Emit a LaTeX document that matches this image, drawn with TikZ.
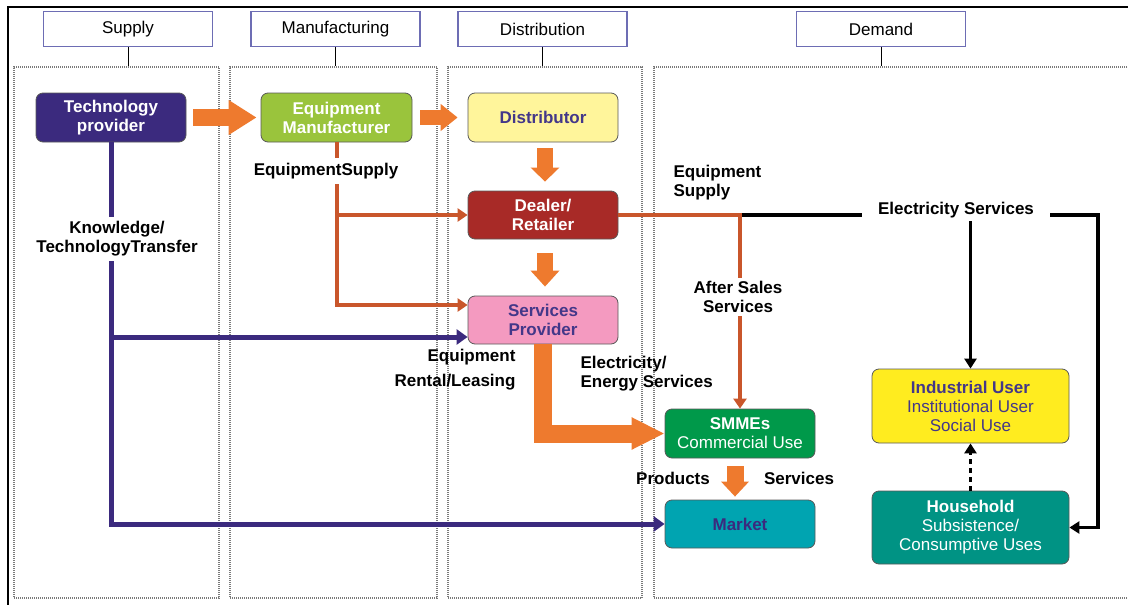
\documentclass[tikz,border=0pt]{standalone}
\usepackage{fontspec}
\setmainfont{Liberation Sans}
\usetikzlibrary{arrows.meta}

\definecolor{techPurple}{HTML}{3B2A7E}
\definecolor{manufGreen}{HTML}{9AC43C}
\definecolor{distYellow}{HTML}{FFF59B}
\definecolor{dealerRed}{HTML}{A82A27}
\definecolor{servPink}{HTML}{F49AC0}
\definecolor{smmeGreen}{HTML}{00994A}
\definecolor{marketTeal}{HTML}{00A4B1}
\definecolor{userYellow}{HTML}{FFEC1F}
\definecolor{houseTeal}{HTML}{009384}
\definecolor{textPurple}{HTML}{433789}
\definecolor{headBlue}{HTML}{6D6DB4}
\definecolor{flowOrange}{HTML}{EE7A2E}
\definecolor{lineOrange}{HTML}{C9562B}
\definecolor{laneGray}{HTML}{7A7A7A}

\begin{document}
\begin{tikzpicture}[x=1pt, y=-1pt,
	header/.style={rectangle, draw=headBlue, line width=1.2pt, fill=white, minimum width=169pt, minimum height=35pt, font=\fontsize{17}{19}\selectfont},
	lane/.style={rectangle, draw=laneGray, line width=1.2pt, dash pattern=on 1pt off 1pt},
	unitbox/.style={rectangle, rounded corners=7pt, draw=black!65, line width=0.8pt, minimum width=150pt, minimum height=49pt, align=center, text=white, inner sep=2pt, font=\fontsize{17}{19}\selectfont\bfseries},
	flowtext/.style={font=\fontsize{17}{19}\selectfont\bfseries, align=left},
	bigflow/.style n args={3}{flowOrange, line width=#1, -{Triangle[length=#2,width=#3]}},
	supplyline/.style={lineOrange, line width=4pt, -{Triangle[length=10pt,width=13pt]}},
	knowline/.style={techPurple, line width=5pt, -{Triangle[length=11pt,width=15pt]}},
	elecline/.style={black, line width=3.5pt, -{Triangle[length=10pt,width=12pt]}}]
	
	\useasboundingbox (0,0) rectangle (1128,605);
	
	%Frame
	\draw[line width=2pt] (8,605) -- (8,6.5) -- (1128,6.5);
	
	%Lanes
	\node (laneSupply) at (116.5,332.5) [lane, minimum width=205pt, minimum height=531pt] {};
	\node (laneManuf) at (333.5,332.5) [lane, minimum width=207pt, minimum height=531pt] {};
	\node (laneDistrib) at (545,332.5) [lane, minimum width=194pt, minimum height=531pt] {};
	\node (laneDemand) at (900,332.5) [lane, minimum width=492pt, minimum height=531pt] {};
	
	%Headers
	\node (hSupply) at (128,29) [header] {Supply};
	\node (hManuf) at (335.5,29) [header] {Manufacturing};
	\node (hDistrib) at (542.5,29) [header] {Distribution};
	\node (hDemand) at (881,29) [header] {Demand};
	\foreach \h/\l in {hSupply/laneSupply, hManuf/laneManuf, hDistrib/laneDistrib, hDemand/laneDemand}
		\draw[line width=1pt] (\h.south) -- (\h.south |- \l.north);
	
	%Units
	\node (techProvider) at (111,117.5) [unitbox, fill=techPurple] {Technology\\provider};
	\node (manufacturer) at (336.5,117.5) [unitbox, fill=manufGreen, minimum width=151pt] {Equipment\\Manufacturer};
	\node (distributor) at (543,117.5) [unitbox, fill=distYellow, text=textPurple] {Distributor};
	\node (dealer) at (543,215) [unitbox, fill=dealerRed, minimum height=48pt] {Dealer/\\Retailer};
	\node (servProvider) at (543,320) [unitbox, fill=servPink, text=textPurple, minimum height=48pt] {Services\\Provider};
	\node (smme) at (740,433.5) [unitbox, fill=smmeGreen] {SMMEs\\\mdseries Commercial Use};
	\node (market) at (740,524) [unitbox, fill=marketTeal, text=techPurple, minimum height=48pt] {Market};
	\node (industrialUser) at (970.5,406) [unitbox, fill=userYellow, text=textPurple, minimum width=197pt, minimum height=74pt] {Industrial User\\\mdseries Institutional User\\\mdseries Social Use};
	\node (household) at (970.5,527.5) [unitbox, fill=houseTeal, minimum width=197pt, minimum height=73pt] {Household\\\mdseries Subsistence/\\\mdseries Consumptive Uses};
	
	%Block arrows
	\draw[bigflow={17pt}{28pt}{33pt}] ([xshift=7pt]techProvider.east) -- ([xshift=-4pt]manufacturer.west);
	\draw[bigflow={15pt}{17pt}{26pt}] ([xshift=8pt]manufacturer.east) -- ([xshift=-10pt]distributor.west);
	\draw[bigflow={16pt}{14pt}{28pt}] ([xshift=2pt,yshift=-6pt]distributor.south) -- ([xshift=2pt,yshift=9pt]dealer.north);
	\draw[bigflow={16pt}{16pt}{28pt}] ([xshift=2pt,yshift=-14pt]dealer.south) -- ([xshift=2pt,yshift=9pt]servProvider.north);
	\draw[bigflow={18pt}{33pt}{30pt}] (servProvider.south) |- (smme.west);
	\draw[bigflow={17pt}{15pt}{27pt}] ([xshift=-5pt,yshift=-8pt]smme.south) -- ([xshift=-5pt,yshift=3pt]market.north);
	
	%Knowledge lines
	\coordinate (servKnow) at ([yshift=-17pt]servProvider.west);
	\draw[knowline] (techProvider.south) |- (market.west);
	\draw[knowline] (techProvider.south |- servKnow) -- (servKnow);
	
	%Electricity lines
	\coordinate (elecCorner) at (1098,215);
	\draw[elecline] (dealer.east -| smme.north) -- (elecCorner) |- (household.east);
	
	%Supply lines
	\coordinate (servSupply) at ([yshift=15pt]servProvider.west);
	\draw[supplyline] (manufacturer.south) |- (servSupply);
	\draw[supplyline] (manufacturer.south |- dealer.west) -- (dealer.west);
	\draw[supplyline] (dealer.east) -| (smme.north);
	
	%Labels
	\node (equipSupplyLbl) at (326,171) [flowtext, fill=white, inner xsep=12pt, inner ysep=5pt] {EquipmentSupply};
	\node (knowLbl) at (117,239) [flowtext, fill=white, align=center, inner xsep=14pt, inner ysep=5pt] {Knowledge/\\TechnologyTransfer};
	\node (afterSalesLbl) at (738,297) [flowtext, fill=white, align=center, inner xsep=12pt] {After Sales\\Services};
	\node (elecServLbl) at (956,210) [flowtext, fill=white, inner xsep=16pt] {Electricity Services};
	\node (equipSupply2Lbl) at (670,183) [flowtext, anchor=west] {Equipment\\Supply};
	\node (rentalTopLbl) at (519,357) [flowtext, anchor=east] {Equipment};
	\node (rentalLbl) at (519,382) [flowtext, anchor=east] {Rental/Leasing};
	\node (energyLbl) at (577,374) [flowtext, anchor=west] {Electricity/\\Energy Services};
	\node (productsLbl) at (673,478) [flowtext] {Products};
	\node (servicesLbl) at (799,478) [flowtext] {Services};
	
	%Electricity to users
	\draw[elecline] (industrialUser.north |- elecServLbl.south) -- (industrialUser.north);
	\draw[elecline, line width=2.5pt, dash pattern=on 5pt off 4pt] (household.north) -- (industrialUser.south);
	
\end{tikzpicture}
\end{document}
